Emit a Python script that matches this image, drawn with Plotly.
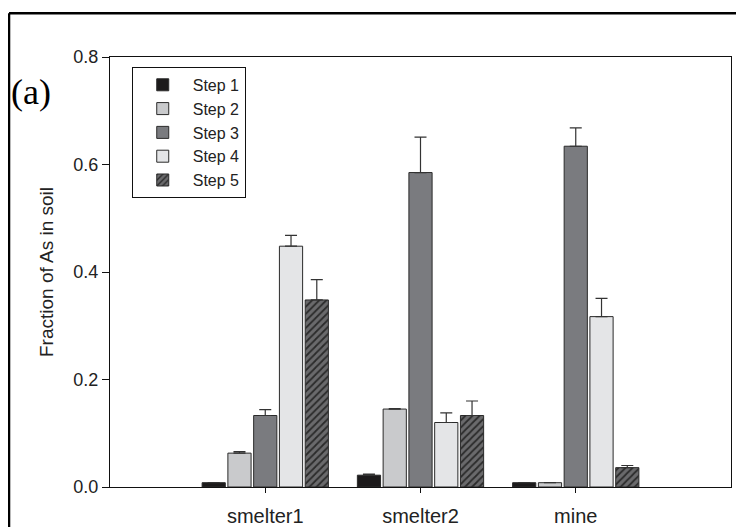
import plotly.graph_objects as go

categories = ["smelter1", "smelter2", "mine"]
cat_pos = [1, 2, 3]
steps = ["Step 1", "Step 2", "Step 3", "Step 4", "Step 5"]

step1 = [0.008, 0.022, 0.008]
step2 = [0.063, 0.145, 0.008]
step3 = [0.133, 0.585, 0.634]
step4 = [0.448, 0.120, 0.317]
step5 = [0.348, 0.133, 0.036]

err1 = [0.0, 0.002, 0.0]
err2 = [0.003, 0.001, 0.0]
err3 = [0.011, 0.066, 0.034]
err4 = [0.020, 0.018, 0.034]
err5 = [0.038, 0.027, 0.004]

values = [step1, step2, step3, step4, step5]
errors = [err1, err2, err3, err4, err5]
colors = ["#1c1a1b", "#c9cacc", "#7a7b7f", "#e4e5e7", "#666669"]

fig = go.Figure()
for i, (name, vals, errs, col) in enumerate(zip(steps, values, errors, colors)):
    marker = dict(color=col, line=dict(color="#2a2a2a", width=1))
    if i == 4:
        marker["pattern"] = dict(shape="/", fgcolor="#2b2b2b", bgcolor="#6a6a6c",
                                 size=5, solidity=0.35, fillmode="replace")
    fig.add_trace(go.Bar(
        x=cat_pos, y=vals, name=name, marker=marker,
        error_y=dict(type="data", array=errs, symmetric=False, arrayminus=[0]*3,
                     color="#333333", thickness=1.2, width=6),
    ))

fig.update_layout(
    width=736, height=519,
    paper_bgcolor="white", plot_bgcolor="white",
    margin=dict(l=102, r=13, t=49, b=40),
    barmode="group", bargap=0.17, bargroupgap=0.1,
    font=dict(family="Liberation Sans, Arial, sans-serif", color="#222222", size=16),
    legend=dict(x=0.035, y=0.977, xanchor="left", yanchor="top",
                bordercolor="#111111", borderwidth=1, bgcolor="white",
                font=dict(size=16), tracegroupgap=0, itemwidth=50),
    showlegend=True,
)
fig.update_xaxes(range=[0, 4], tickvals=cat_pos, ticktext=categories,
                 showline=True, mirror=True, linecolor="#111111", linewidth=1,
                 ticks="outside", ticklen=5, tickcolor="#111111",
                 ticklabelstandoff=6, tickfont=dict(size=20),
                 showgrid=False, zeroline=False, automargin=False)
fig.update_yaxes(range=[0, 0.8], tickvals=[0, 0.2, 0.4, 0.6, 0.8],
                 tickformat=".1f",
                 showline=True, mirror=True, linecolor="#111111", linewidth=1,
                 ticks="outside", ticklen=7, tickcolor="#111111",
                 tickfont=dict(size=18),
                 title=dict(text="Fraction of As in soil", font=dict(size=19), standoff=14),
                 showgrid=False, zeroline=False, automargin=False)

# outer frame
fig.add_shape(type="line", xref="paper", yref="paper", x0=-0.1626, x1=1.03, y0=1.102, y1=1.102,
              line=dict(color="black", width=2.5))
fig.add_shape(type="line", xref="paper", yref="paper", x0=-0.1626, x1=-0.1626, y0=1.102, y1=-0.12,
              line=dict(color="black", width=2.5))

fig.add_annotation(text="(a)", xref="paper", yref="paper", x=-0.127, y=0.919,
                   xanchor="center", yanchor="middle",
                   showarrow=False, font=dict(family="Liberation Serif, Times New Roman, serif",
                                              size=36, color="black"))

fig.write_html("out.html")
